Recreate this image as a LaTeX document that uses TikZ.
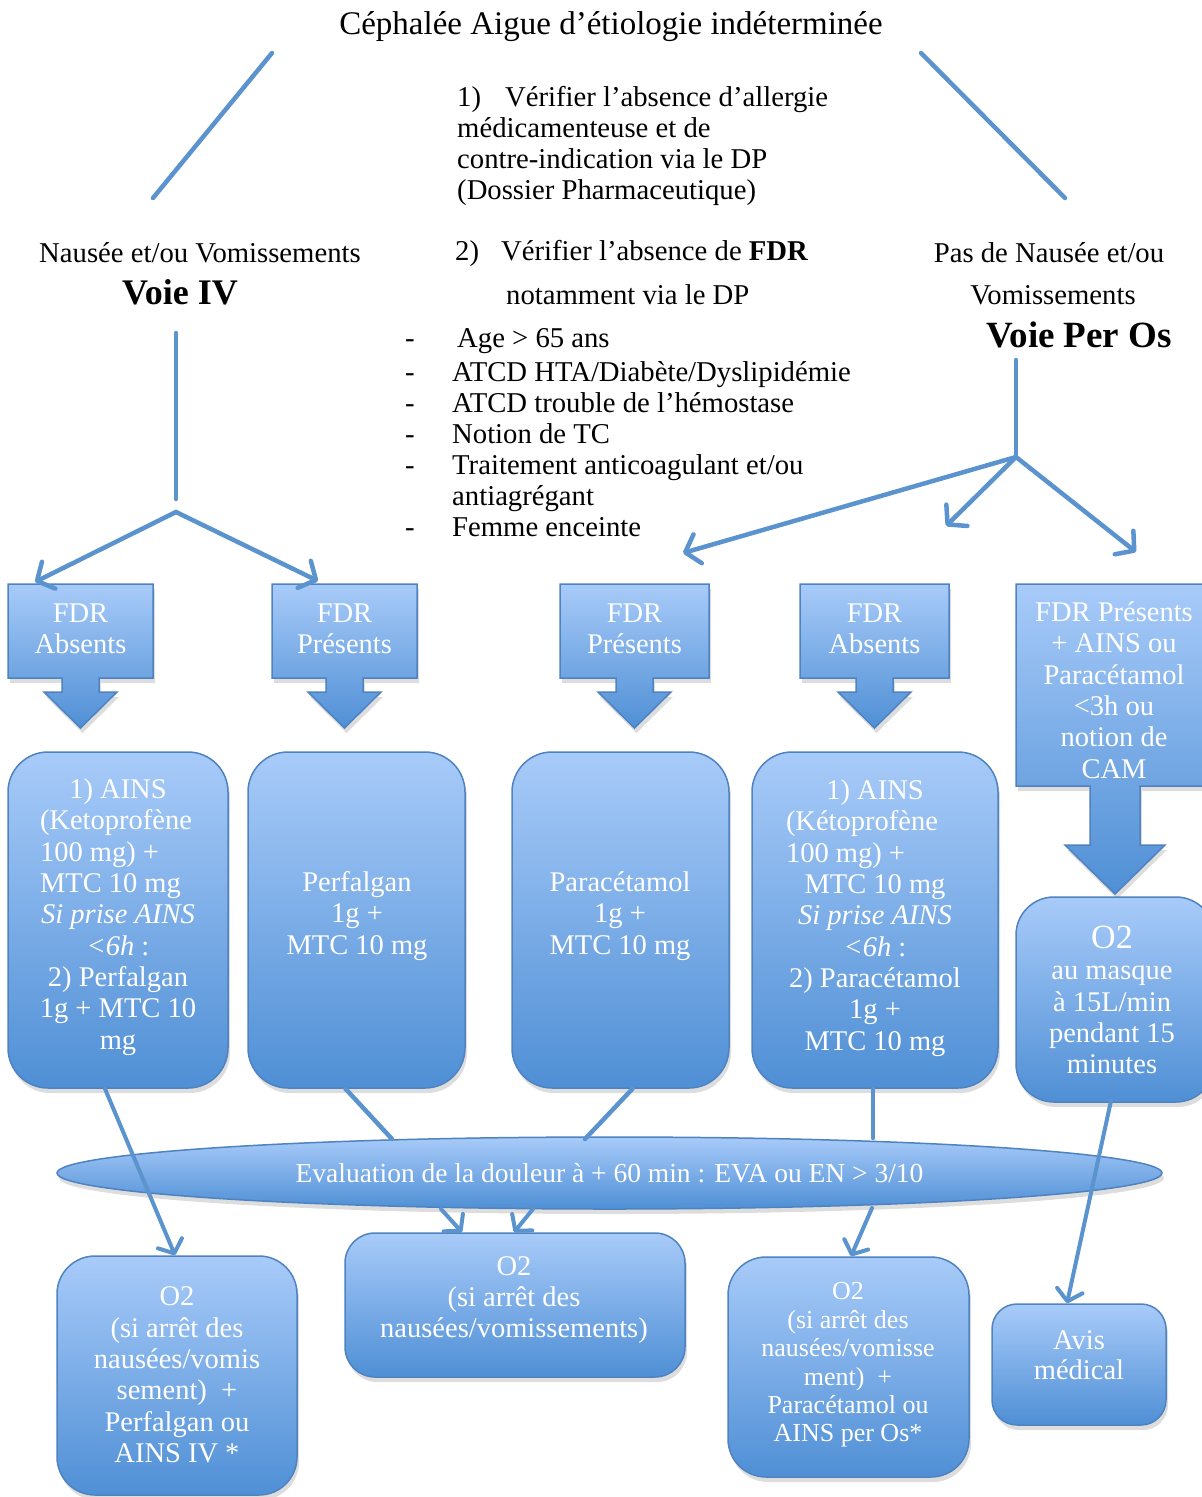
\documentclass[tikz,border=0pt]{standalone}
\usepackage{fontspec}
\setmainfont{Liberation Serif}
\usetikzlibrary{arrows.meta,shadows,shapes.geometric,calc}
\definecolor{topc}{HTML}{A8CBF9}
\definecolor{botc}{HTML}{4F8FD5}
\definecolor{bordc}{HTML}{4F83C0}
\definecolor{linec}{HTML}{5B93CE}
\newcommand\myfs[2]{\fontsize{#1}{#2}\selectfont}
\newcommand\lline[3]{\makebox[#1][l]{\hspace*{#2}#3}}
\begin{document}
\begin{tikzpicture}[x=1pt,y=-1pt,
  conn/.style={draw=linec, line width=4.5pt, line cap=round},
  arr/.style={conn, -{Straight Barb[length=13pt,width=30pt,round]}},
  sarr/.style={conn, line width=4pt, -{Straight Barb[length=11pt,width=26pt,round]}},
  shadefill/.style={top color=topc, bottom color=botc, draw=bordc, line width=1.5pt},
  shad/.style={drop shadow={shadow xshift=2pt, shadow yshift=-5pt, opacity=0.22, fill=black!60}},
  rbox/.style={shadefill, shad, rectangle, rounded corners=#1, inner sep=0pt},
  rbox/.default=38pt,
  wtxt/.style={text=white, align=center, inner sep=0pt, font=\myfs{28.5}{31.3}},
  btxt/.style={text=black, inner sep=0pt, font=\myfs{28.7}{31}},
]
\useasboundingbox (0,0) rectangle (1202,1497);

% ---------- top texts ----------
\node[btxt, font=\myfs{33}{38}] (title) at (611,27) {Céphalée Aigue d’étiologie indéterminée};
\coordinate (tl1) at (272,53); \coordinate (tl2) at (153,198);
\coordinate (tr1) at (921,53); \coordinate (tr2) at (1065,198);
\draw[conn] (tl1) -- (tl2);
\draw[conn] (tr1) -- (tr2);

\node[btxt, anchor=west, align=left] (chk1) at (457,146)
  {1)\hspace{24pt}Vérifier l’absence d’allergie\\ médicamenteuse et de\\ contre-indication via le DP\\ (Dossier Pharmaceutique)};
\node[btxt, anchor=west] (chk2) at (455,253) {2)\hspace{22pt}Vérifier l’absence de \textbf{FDR}};
\node[btxt, anchor=west] (chk2b) at (506,295) {notamment via le DP};
\node[btxt, anchor=west] (fdrlist) at (405,436) {\begin{tabular}{@{}p{47pt}@{}l@{}}
- & \hspace*{5pt}Age > 65 ans\\[3pt]
- & ATCD HTA/Diabète/Dyslipidémie\\
- & ATCD trouble de l’hémostase\\
- & Notion de TC\\
- & Traitement anticoagulant et/ou\\
  & antiagrégant\\
- & Femme enceinte
\end{tabular}};

\node[btxt] (nau) at (200,253) {Nausée et/ou Vomissements};
\node[btxt, font=\myfs{36}{40}\bfseries] (voieiv) at (180,292) {Voie IV};
\node[btxt] (pnau) at (1049,253) {Pas de Nausée et/ou};
\node[btxt] (pvom) at (1053,295) {Vomissements};
\node[btxt, font=\myfs{37}{40}\bfseries] (voiepo) at (1079,335) {Voie Per Os};

% ---------- FDR block arrows ----------
\path[shadefill, shad] (8,584) -- (153,584) -- (153,678) -- (99,678) -- (99,692) -- (117,692) -- (80.5,728) -- (44,692) -- (62,692) -- (62,678) -- (8,678) -- cycle;
\path[shadefill, shad] (272,584) -- (417,584) -- (417,678) -- (363,678) -- (363,692) -- (381,692) -- (344.5,728) -- (308,692) -- (326,692) -- (326,678) -- (272,678) -- cycle;
\path[shadefill, shad] (560,584) -- (709,584) -- (709,678) -- (653,678) -- (653,692) -- (671,692) -- (634.5,728) -- (598,692) -- (616,692) -- (616,678) -- (560,678) -- cycle;
\path[shadefill, shad] (800,584) -- (949,584) -- (949,678) -- (893,678) -- (893,692) -- (911,692) -- (874.5,728) -- (838,692) -- (856,692) -- (856,678) -- (800,678) -- cycle;
\path[shadefill, shad] (1016,584) -- (1214,584) -- (1214,786) -- (1140,786) -- (1140,845) -- (1165,845) -- (1115,894) -- (1065,845) -- (1090,845) -- (1090,786) -- (1016,786) -- cycle;

\node[wtxt, minimum width=145pt, minimum height=94pt] (fdr1) at (80.5,629) {FDR\\Absents};
\node[wtxt, minimum width=145pt, minimum height=94pt] (fdr2) at (344.5,629) {FDR\\Présents};
\node[wtxt, minimum width=149pt, minimum height=94pt] (fdr3) at (634.5,629) {FDR\\Présents};
\node[wtxt, minimum width=149pt, minimum height=94pt] (fdr4) at (874.5,629) {FDR\\Absents};
\node[wtxt] (fdr5) at (1114,690) {FDR Présents\\+ AINS ou\\Paracétamol\\<3h ou\\notion de\\CAM};

% ---------- branch connectors ----------
\coordinate (lv1) at (176,333); \coordinate (lv2) at (176,499); \coordinate (lj) at (176,512);
\coordinate (la1) at (35,582); \coordinate (la2) at (318,581);
\draw[conn] (lv1) -- (lv2);
\draw[arr] (lj) -- (la1);
\draw[arr] (lj) -- (la2);
\coordinate (rv1) at (1016,360); \coordinate (rj) at (1016,457);
\coordinate (ra1) at (683,553); \coordinate (ra2) at (946,526); \coordinate (ra3) at (1136,552);
\draw[conn] (rv1) -- (rj);
\draw[arr] (rj) -- (ra1);
\draw[arr] (rj) -- (ra2);
\draw[arr] (rj) -- (ra3);

% ---------- treatment boxes ----------
\node[rbox=40pt, minimum width=220pt, minimum height=336pt] (bA) at (118,920) {};
\node[rbox=40pt, minimum width=217pt, minimum height=336pt] (bB) at (356.5,920) {};
\node[rbox=40pt, minimum width=217pt, minimum height=336pt] (bC) at (620.5,920) {};
\node[rbox=40pt, minimum width=246pt, minimum height=336pt] (bD) at (875,920) {};
\node[rbox=38pt, minimum width=198pt, minimum height=205pt] (bE) at (1115,999.5) {};

\node[wtxt] (tA) at (118,917) {1) AINS\\
 \lline{200pt}{22pt}{(Ketoprofène}\\
 \lline{200pt}{22pt}{100 mg) +}\\
 \lline{200pt}{22pt}{MTC 10 mg}\\
 \textit{Si prise AINS}\\
 \textit{<6h} :\\
 2) Perfalgan\\
 1g + MTC 10\\
 mg};
\node[wtxt] (tB) at (357,916) {Perfalgan\\1g +\\MTC 10 mg};
\node[wtxt] (tC) at (620,916) {Paracétamol\\1g +\\MTC 10 mg};
\node[wtxt] (tD) at (875,918) {1) AINS\\
 \lline{240pt}{31pt}{(Kétoprofène}\\
 \lline{240pt}{31pt}{100 mg) +}\\
 MTC 10 mg\\
 \textit{Si prise AINS}\\
 \textit{<6h} :\\
 2) Paracétamol\\
 1g +\\
 MTC 10 mg};
\node[wtxt, font=\myfs{34}{36}] (tEo) at (1112,937) {O2};
\node[wtxt] (tE) at (1112,1020) {au masque\\à 15L/min\\pendant 15\\minutes};

% ---------- evaluation ellipse ----------
\node[shadefill, shad, ellipse, minimum width=1105pt, minimum height=72pt, inner sep=0pt,
      text=white, font=\myfs{27.5}{30}] (ev) at (609.5,1173)
  {Evaluation de la douleur à + 60 min : EVA ou EN > 3/10};

% ---------- bottom boxes ----------
\node[rbox=38pt, minimum width=240pt, minimum height=239pt] (b1) at (177,1375.5) {};
\node[rbox=30pt, minimum width=340pt, minimum height=144pt] (b2) at (515,1305) {};
\node[rbox=38pt, minimum width=241pt, minimum height=220pt] (b3) at (848.5,1367) {};
\node[rbox=25pt, minimum width=174pt, minimum height=121pt] (b4) at (1079,1364.5) {};

\node[wtxt] (t1) at (177,1375) {O2\\(si arrêt des\\nausées/vomis\\sement)~~+\\Perfalgan ou\\AINS IV *};
\node[wtxt] (t2) at (514,1300) {O2\\(si arrêt des\\nausées/vomissements)};
\node[wtxt, font=\myfs{26}{28.4}] (t3) at (848,1365) {O2\\(si arrêt des\\nausées/vomisse\\ment)~~+\\Paracétamol ou\\AINS per Os*};
\node[wtxt, font=\myfs{28.5}{30}] (t4) at (1079,1355) {Avis\\médical};

% ---------- lower connectors ----------
\coordinate (e1) at (392,1139);
\coordinate (e2) at (585,1139);
\coordinate (e3) at (873,1138);
\coordinate (e4) at (441,1209);
\coordinate (e5) at (533,1209);
\coordinate (e6) at (872,1208);
\draw[sarr] ($(bA.south)+(-13,0)$) -- ($(b1.north)+(-2,0)$);
\draw[conn] ($(bB.south)+(-11,0)$) -- (e1);
\draw[conn] ($(bC.south)+(12,0)$) -- (e2);
\draw[conn] ($(bD.south)+(-2,0)$) -- (e3);
\draw[sarr] ($(bE.south)+(-4,-2)$) -- ($(b4.north)+(-12,0)$);
\draw[sarr] (e4) -- ($(b2.north)+(-53,0)$);
\draw[sarr] (e5) -- ($(b2.north)+(-1,0)$);
\draw[sarr] (e6) -- ($(b3.north)+(2.5,0)$);
\end{tikzpicture}
\end{document}
